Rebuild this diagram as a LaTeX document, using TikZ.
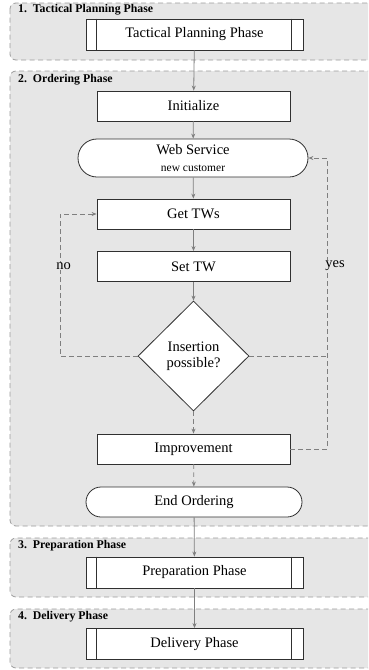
\documentclass[tikz,border=0pt]{standalone}
\usepackage{fontspec}
\setmainfont{Liberation Serif}
\usetikzlibrary{arrows.meta,shapes.geometric,shapes.misc}
\definecolor{phasebg}{HTML}{E6E6E6}
\definecolor{phaseline}{HTML}{9C9C9C}
\definecolor{conn}{HTML}{7F7F7F}
\definecolor{boxline}{HTML}{303030}
\begin{document}
\begin{tikzpicture}[x=1pt,y=-1pt,
  phasebox/.style={draw=phaseline, fill=phasebg, dashed, dash pattern=on 5pt off 3.5pt, rounded corners=6pt, line width=0.8pt},
  phasehead/.style={anchor=west, inner sep=0pt, font=\fontsize{11.8}{13}\selectfont\bfseries},
  bodytext/.style={font=\fontsize{14.5}{16.5}\selectfont},
  procbox/.style={bodytext, draw=boxline, fill=white, line width=0.8pt, minimum width=193pt, minimum height=30pt, inner sep=0pt},
  subbox/.style={procbox, minimum width=217pt, minimum height=31pt},
  termbox/.style={bodytext, rounded rectangle, draw=boxline, fill=white, line width=0.8pt, inner sep=0pt, align=center},
  decbox/.style={bodytext, diamond, draw=boxline, fill=white, line width=0.8pt, minimum width=111pt, minimum height=110pt, inner sep=0pt, align=center},
  arr/.style={draw=conn, line width=0.8pt, -{Stealth[length=5pt,width=4pt]}},
  dline/.style={draw=conn, line width=0.8pt, dashed, dash pattern=on 4.5pt off 3.5pt},
  lbl/.style={bodytext, fill=phasebg, inner sep=1pt}
]
\clip (0,0) rectangle (368,670);
\useasboundingbox (0,0) rectangle (368,670);
\fill[white] (0,0) rectangle (368,670);

% phases
\draw[phasebox] (10,3) rectangle (385,60);
\draw[phasebox] (10,71) rectangle (385,526);
\draw[phasebox] (10,538) rectangle (385,597);
\draw[phasebox] (10,609) rectangle (385,668);
\node[phasehead] (h1) at (18,10) {1.\ \ Tactical Planning Phase};
\node[phasehead] (h2) at (18,80) {2.\ \ Ordering Phase};
\node[phasehead] (h3) at (18,545.5) {3.\ \ Preparation Phase};
\node[phasehead] (h4) at (18,617) {4.\ \ Delivery Phase};

% nodes
\node[subbox] (tac) at (194.5,34.5) {Tactical Planning Phase};
\node[procbox] (init) at (193.5,106) {Initialize};
\node[termbox, minimum width=230pt, minimum height=38pt] (ws) at (193,158)
  {Web Service\\[1pt]{\fontsize{11.5}{13}\selectfont new customer}};
\node[procbox] (get) at (193.5,214) {Get TWs};
\node[procbox] (set) at (193.5,266.5) {Set TW};
\node[decbox] (dia) at (193.5,356) {Insertion\\possible?};
\node[procbox] (imp) at (193.5,449) {Improvement};
\node[termbox, minimum width=216pt, minimum height=30pt] (endo) at (194,502) {End Ordering};
\node[subbox] (prep) at (194.5,572.5) {Preparation Phase};
\node[subbox] (deliv) at (194.5,644) {Delivery Phase};

% inner lines of subprocess boxes
\foreach \n in {tac,prep,deliv}{
  \draw[draw=boxline, line width=0.8pt] ([xshift=11pt]\n.north west) -- ([xshift=11pt]\n.south west);
  \draw[draw=boxline, line width=0.8pt] ([xshift=-12pt]\n.north east) -- ([xshift=-12pt]\n.south east);
}

% connectors
\draw[arr] (tac) -- (init);
\draw[arr] (init) -- (ws);
\draw[arr] (ws) -- (get);
\draw[arr] (get) -- (set);
\draw[arr] (set) -- (dia);
\draw[arr, dline] (dia) -- (imp);
\draw[arr, dline] (imp) -- (endo);
\draw[arr] (endo) -- (prep);
\draw[arr] (prep) -- (deliv);

\coordinate (nocorner) at (60,356);
\coordinate (yescorner) at (327,449);
\coordinate (yesjoin) at (327,356);
\draw[arr, dline] (dia.west) -- (nocorner) |- (get.west);
\draw[arr, dline] (imp.east) -- (yescorner) |- (ws.east);
\draw[dline] (dia.east) -- (yesjoin);

\node[lbl] (no) at (63.5,266) {no};
\node[lbl] (yes) at (335,266) {yes};
\end{tikzpicture}
\end{document}
